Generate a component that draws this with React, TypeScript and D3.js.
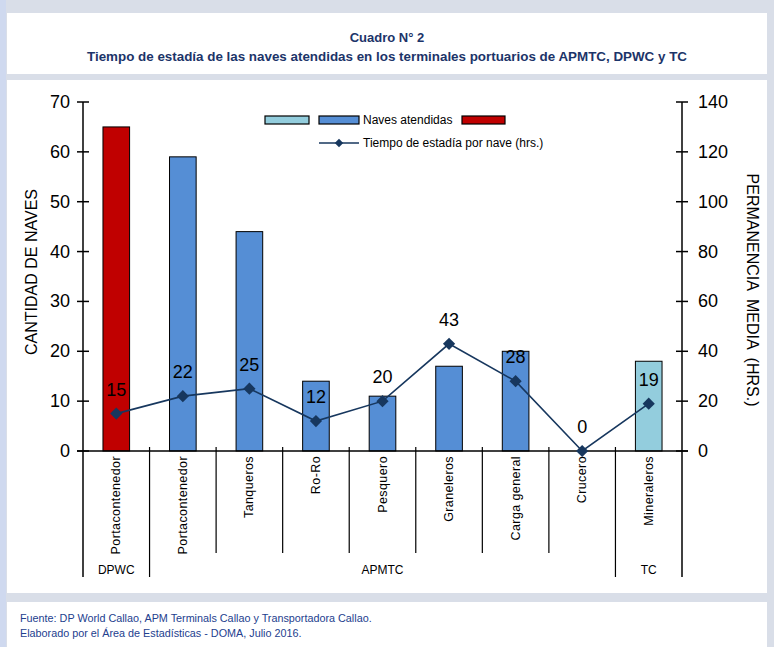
import React from "react";
import * as d3 from "d3";

const categories = ["Portacontenedor", "Portacontenedor", "Tanqueros", "Ro-Ro", "Pesquero", "Graneleros", "Carga general", "Crucero", "Mineraleros"];
const terminals = ["DPWC", "APMTC", "APMTC", "APMTC", "APMTC", "APMTC", "APMTC", "APMTC", "TC"];
const navesAtendidas = [65, 59, 44, 14, 11, 17, 20, 0, 18];
const tiempoEstadia = [15, 22, 25, 12, 20, 43, 28, 0, 19];
const groupNames = ["DPWC", "APMTC", "TC"];
const leftTicks = [0, 10, 20, 30, 40, 50, 60, 70];
const rightTicks = [0, 20, 40, 60, 80, 100, 120, 140];

const terminalColor: Record<string, string> = { DPWC: "#c00000", APMTC: "#558ed5", TC: "#93cddd" };
const navy = "#17375e";
const font = "'Liberation Sans', Arial, sans-serif";

export default function App() {
  const W = 774, H = 647;
  const x0 = 83, x1 = 682, yTop = 102, yBase = 451;
  const n = categories.length;
  const xb = d3.scaleLinear().domain([0, n]).range([x0, x1]);
  const step = xb(1) - xb(0);
  const barW = step * 0.4;
  const yL = d3.scaleLinear().domain([0, 70]).range([yBase, yTop]);
  const yR = d3.scaleLinear().domain([0, 140]).range([yBase, yTop]);
  const line = d3.line<number>().x((_, i) => xb(i + 0.5)).y((d) => yR(d));
  const diamond = d3.symbol().type(d3.symbolDiamond2).size(95)() as string;

  const spans = groupNames.map((g) => {
    const idx = terminals.map((t, i) => (t === g ? i : -1)).filter((i) => i >= 0);
    return { name: g, start: idx[0], end: idx[idx.length - 1] + 1 };
  });
  const groupBoundaries = new Set<number>();
  spans.forEach((s) => { groupBoundaries.add(s.start); groupBoundaries.add(s.end); });

  return (
    <svg width={W} height={H} style={{ position: "absolute", left: 0, top: 0, display: "block" }} fontFamily={font}>
      <rect x={0} y={0} width={W} height={H} fill="#d9dee8" />
      <rect x={0} y={0} width={6} height={H} fill="#cfd9ef" />
      <rect x={7} y={13} width={760} height={61} fill="#ffffff" />
      <rect x={7} y={80} width={760} height={513} fill="#ffffff" />
      <rect x={7} y={602} width={760} height={45} fill="#ffffff" />

      <text x={387} y={42} textAnchor="middle" fontSize={13} fontWeight="bold" fill="#1c3469">Cuadro N° 2</text>
      <text x={387} y={61} textAnchor="middle" fontSize={13} fontWeight="bold" fill="#1c3469" textLength={600} lengthAdjust="spacingAndGlyphs">Tiempo de estadía de las naves atendidas en los terminales portuarios de APMTC, DPWC y TC</text>

      {navesAtendidas.map((v, i) => (
        <rect key={"b" + i} x={xb(i + 0.5) - barW / 2} y={yL(v)} width={barW} height={yBase - yL(v)}
          fill={terminalColor[terminals[i]]} stroke="#000" strokeWidth={1} />
      ))}

      <line x1={x0} y1={yTop} x2={x0} y2={577} stroke="#000" strokeWidth={1.5} />
      <line x1={x1} y1={yTop} x2={x1} y2={577} stroke="#000" strokeWidth={1.5} />
      <line x1={77} y1={yBase} x2={688} y2={yBase} stroke="#000" strokeWidth={1.5} />
      {leftTicks.map((t) => (
        <g key={"l" + t}>
          <line x1={77} x2={89} y1={yL(t)} y2={yL(t)} stroke="#000" strokeWidth={1.5} />
          <text x={70} y={yL(t)} textAnchor="end" dominantBaseline="central" fontSize={18} fill="#000">{t}</text>
        </g>
      ))}
      {rightTicks.map((t) => (
        <g key={"r" + t}>
          <line x1={676} x2={688} y1={yR(t)} y2={yR(t)} stroke="#000" strokeWidth={1.5} />
          <text x={698} y={yR(t)} textAnchor="start" dominantBaseline="central" fontSize={18} fill="#000">{t}</text>
        </g>
      ))}
      {d3.range(1, n).map((i) => (
        <line key={"s" + i} x1={xb(i)} x2={xb(i)} y1={yBase - 4} y2={groupBoundaries.has(i) ? 577 : 553} stroke="#000" strokeWidth={1.2} />
      ))}

      <text transform={`translate(31,272) rotate(-90)`} textAnchor="middle" dominantBaseline="central" fontSize={16} fill="#000">CANTIDAD DE NAVES</text>
      <text transform={`translate(752,290) rotate(90)`} textAnchor="middle" dominantBaseline="central" fontSize={16} fill="#000" style={{ whiteSpace: "pre" }}>{"PERMANENCIA  MEDIA  (HRS.)"}</text>

      {categories.map((c, i) => (
        <text key={"c" + i} transform={`translate(${xb(i + 0.5)},456) rotate(-90)`} textAnchor="end" dominantBaseline="central" fontSize={12.5} letterSpacing={0.4} fill="#000">{c}</text>
      ))}
      {spans.map((s) => (
        <text key={"g" + s.name} x={(xb(s.start) + xb(s.end)) / 2} y={570} textAnchor="middle" dominantBaseline="central" fontSize={12} fill="#000">{s.name}</text>
      ))}

      <path d={line(tiempoEstadia) as string} fill="none" stroke={navy} strokeWidth={1.6} />
      {tiempoEstadia.map((v, i) => (
        <g key={"m" + i}>
          <path d={diamond} transform={`translate(${xb(i + 0.5)},${yR(v)})`} fill={navy} />
          <text x={xb(i + 0.5)} y={yR(v) - 18} textAnchor="middle" fontSize={18} fill="#000">{v}</text>
        </g>
      ))}

      <rect x={265} y={116} width={44} height={8} fill={terminalColor.TC} stroke="#000" strokeWidth={1.2} />
      <rect x={319} y={116} width={40} height={8} fill={terminalColor.APMTC} stroke="#000" strokeWidth={1.2} />
      <text x={363} y={120} dominantBaseline="central" fontSize={12} fill="#000">Naves atendidas</text>
      <rect x={462} y={116} width={43} height={8} fill={terminalColor.DPWC} stroke="#000" strokeWidth={1.2} />
      <line x1={319} x2={359} y1={143} y2={143} stroke={navy} strokeWidth={1.6} />
      <path d={d3.symbol().type(d3.symbolDiamond2).size(45)() as string} transform="translate(339,143)" fill={navy} />
      <text x={363} y={143} dominantBaseline="central" fontSize={12} fill="#000">Tiempo de estadía por nave (hrs.)</text>

      <text x={20} y={622} fontSize={10.8} fill="#23408e">Fuente: DP World Callao, APM Terminals Callao y Transportadora Callao.</text>
      <text x={20} y={637} fontSize={10.8} fill="#23408e">Elaborado por el Área de Estadísticas - DOMA, Julio 2016.</text>
    </svg>
  );
}
